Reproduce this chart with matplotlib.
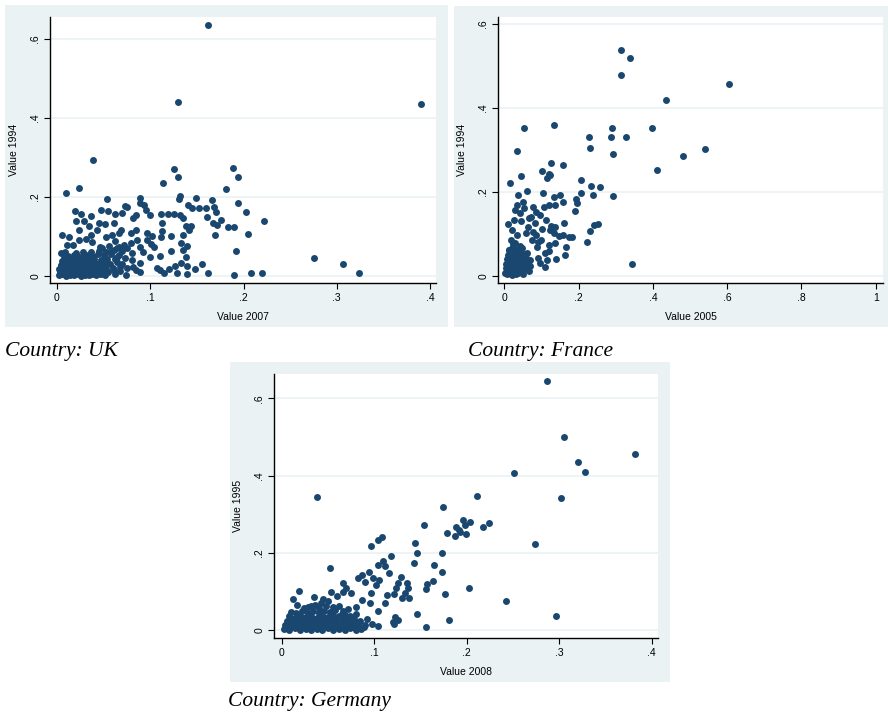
import matplotlib
matplotlib.use("Agg")
import matplotlib.pyplot as plt
import numpy as np

# --- data: (x, y) pairs per country ---
uk_points = [
    (0.162, 0.635), (0.130, 0.440), (0.390, 0.435), (0.0386, 0.294), (0.010, 0.211), (0.024, 0.224),
    (0.125, 0.270), (0.130, 0.250), (0.114, 0.235), (0.189, 0.274), (0.194, 0.250), (0.181, 0.220),
    (0.132, 0.203), (0.131, 0.195), (0.149, 0.197), (0.166, 0.193), (0.194, 0.186), (0.203, 0.163),
    (0.222, 0.139), (0.205, 0.107), (0.192, 0.064), (0.276, 0.046), (0.307, 0.030), (0.324, 0.008),
    (0.208, 0.008), (0.220, 0.008), (0.190, 0.003), (0.162, 0.008), (0.156, 0.030), (0.1475, 0.019),
    (0.139, 0.004), (0.139, 0.025), (0.138, 0.049), (0.1325, 0.032), (0.129, 0.008), (0.126, 0.026),
    (0.120, 0.019), (0.115, 0.007), (0.110, 0.015), (0.107, 0.021), (0.110, 0.051), (0.122, 0.064),
    (0.133, 0.083), (0.139, 0.077), (0.135, 0.066), (0.135, 0.105), (0.142, 0.116), (0.144, 0.126),
    (0.138, 0.126), (0.135, 0.148), (0.132, 0.154), (0.125, 0.157), (0.119, 0.157), (0.112, 0.158),
    (0.113, 0.135), (0.113, 0.115), (0.122, 0.102), (0.111, 0.100), (0.102, 0.102), (0.097, 0.108),
    (0.096, 0.091), (0.104, 0.074), (0.100, 0.049), (0.089, 0.032), (0.089, 0.011), (0.081, 0.024),
    (0.100, 0.154), (0.095, 0.167), (0.093, 0.181), (0.089, 0.197), (0.089, 0.184), (0.085, 0.154),
    (0.082, 0.146), (0.085, 0.116), (0.079, 0.108), (0.086, 0.091), (0.079, 0.083), (0.089, 0.074),
    (0.080, 0.057), (0.073, 0.178), (0.075, 0.174), (0.070, 0.159), (0.062, 0.156), (0.055, 0.165),
    (0.054, 0.195), (0.047, 0.167), (0.061, 0.135), (0.051, 0.132), (0.045, 0.135), (0.069, 0.116),
    (0.066, 0.108), (0.059, 0.104), (0.053, 0.098), (0.043, 0.116), (0.036, 0.152), (0.034, 0.127),
    (0.029, 0.138), (0.026, 0.158), (0.019, 0.164), (0.020, 0.140), (0.024, 0.116), (0.024, 0.091),
    (0.013, 0.100), (0.005, 0.103), (0.011, 0.078), (0.017, 0.079), (0.004, 0.058), (0.009, 0.062),
    (0.031, 0.094), (0.036, 0.104), (0.037, 0.087), (0.046, 0.074), (0.066, 0.074), (0.075, 0.070),
    (0.064, 0.049), (0.073, 0.045), (0.074, 0.003), (0.068, 0.024), (0.061, 0.015), (0.052, 0.024),
    (0.168, 0.174), (0.171, 0.163), (0.176, 0.142), (0.183, 0.125), (0.190, 0.125), (0.167, 0.133),
    (0.169, 0.105), (0.160, 0.173), (0.161, 0.150), (0.172, 0.130), (0.152, 0.173), (0.145, 0.173),
    (0.141, 0.180), (0.092, 0.062), (0.101, 0.082), (0.058, 0.060), (0.062, 0.088),
    # dense cluster near the origin
    (0.002, 0.002), (0.006, 0.004), (0.010, 0.001), (0.014, 0.003), (0.018, 0.002), (0.022, 0.004),
    (0.026, 0.001), (0.030, 0.003), (0.034, 0.002), (0.038, 0.005), (0.042, 0.002), (0.047, 0.004),
    (0.052, 0.003), (0.003, 0.010), (0.007, 0.013), (0.011, 0.009), (0.015, 0.012), (0.019, 0.010),
    (0.023, 0.014), (0.027, 0.011), (0.031, 0.013), (0.035, 0.010), (0.039, 0.012), (0.044, 0.009),
    (0.049, 0.013), (0.055, 0.011), (0.002, 0.019), (0.006, 0.022), (0.010, 0.018), (0.014, 0.021),
    (0.018, 0.024), (0.022, 0.019), (0.026, 0.022), (0.030, 0.020), (0.034, 0.023), (0.040, 0.020),
    (0.046, 0.022), (0.053, 0.019), (0.060, 0.021), (0.004, 0.029), (0.008, 0.032), (0.012, 0.028),
    (0.016, 0.031), (0.020, 0.034), (0.025, 0.030), (0.029, 0.033), (0.033, 0.029), (0.038, 0.032),
    (0.043, 0.030), (0.050, 0.033), (0.057, 0.030), (0.005, 0.039), (0.010, 0.041), (0.015, 0.038),
    (0.020, 0.043), (0.024, 0.040), (0.029, 0.044), (0.034, 0.041), (0.040, 0.043), (0.047, 0.040),
    (0.054, 0.044), (0.062, 0.042), (0.012, 0.050), (0.018, 0.052), (0.024, 0.049), (0.031, 0.054),
    (0.037, 0.051), (0.044, 0.055), (0.050, 0.052), (0.058, 0.056), (0.066, 0.053), (0.028, 0.062),
    (0.036, 0.060), (0.045, 0.064), (0.053, 0.061), (0.061, 0.066), (0.070, 0.063), (0.048, 0.072),
    (0.056, 0.076), (0.064, 0.071), (0.072, 0.079), (0.062, 0.005), (0.068, 0.012), (0.075, 0.020),
    (0.070, 0.030), (0.080, 0.040), (0.085, 0.015),
    (0.004, 0.006), (0.012, 0.006), (0.020, 0.007), (0.028, 0.006), (0.036, 0.007), (0.044, 0.006),
    (0.008, 0.016), (0.016, 0.016), (0.024, 0.017), (0.032, 0.016), (0.041, 0.016), (0.050, 0.017),
    (0.004, 0.025), (0.012, 0.024), (0.020, 0.026), (0.028, 0.025), (0.036, 0.026), (0.044, 0.025),
    (0.007, 0.035), (0.014, 0.034), (0.022, 0.036), (0.031, 0.037), (0.040, 0.036), (0.047, 0.035),
    (0.008, 0.046), (0.016, 0.045), (0.027, 0.047), (0.039, 0.047), (0.020, 0.058), (0.064, 0.036),
]

fr_points = [
    (0.314, 0.537), (0.338, 0.519), (0.313, 0.478), (0.606, 0.456), (0.435, 0.418), (0.397, 0.353),
    (0.540, 0.302), (0.482, 0.286), (0.411, 0.253), (0.343, 0.028), (0.290, 0.352), (0.287, 0.330),
    (0.328, 0.330), (0.227, 0.330), (0.232, 0.304), (0.294, 0.290), (0.294, 0.191), (0.259, 0.213),
    (0.234, 0.214), (0.238, 0.194), (0.207, 0.228), (0.206, 0.197), (0.193, 0.184), (0.196, 0.173),
    (0.191, 0.155), (0.134, 0.360), (0.054, 0.352), (0.033, 0.298), (0.044, 0.237), (0.015, 0.221),
    (0.101, 0.251), (0.127, 0.268), (0.158, 0.265), (0.124, 0.240), (0.116, 0.233), (0.121, 0.243),
    (0.061, 0.202), (0.038, 0.193), (0.104, 0.198), (0.149, 0.192), (0.133, 0.188), (0.158, 0.176),
    (0.137, 0.169), (0.119, 0.169), (0.108, 0.165), (0.161, 0.125), (0.230, 0.107), (0.242, 0.121),
    (0.253, 0.123), (0.222, 0.081), (0.167, 0.070), (0.164, 0.049), (0.181, 0.092), (0.174, 0.092),
    (0.159, 0.097), (0.147, 0.096), (0.139, 0.040), (0.114, 0.038), (0.109, 0.022), (0.096, 0.030),
    (0.034, 0.170), (0.050, 0.176), (0.054, 0.161), (0.030, 0.157), (0.011, 0.124), (0.021, 0.110),
    (0.042, 0.149), (0.072, 0.141), (0.077, 0.165), (0.085, 0.153), (0.096, 0.145), (0.111, 0.133),
    (0.101, 0.112), (0.123, 0.110), (0.136, 0.117), (0.133, 0.102), (0.137, 0.078), (0.119, 0.074),
    (0.098, 0.086), (0.082, 0.125), (0.064, 0.117), (0.058, 0.102), (0.085, 0.098), (0.074, 0.086),
    (0.087, 0.070), (0.109, 0.054), (0.091, 0.042), (0.056, 0.016), (0.069, 0.038), (0.060, 0.054),
    (0.047, 0.066), (0.033, 0.098), (0.017, 0.086), (0.029, 0.078), (0.012, 0.062), (0.025, 0.133),
    (0.046, 0.130), (0.066, 0.138), (0.090, 0.080), (0.120, 0.060), (0.125, 0.120), (0.078, 0.105),
    # dense cluster near the origin
    (0.003, 0.008), (0.008, 0.004), (0.014, 0.006), (0.020, 0.003), (0.026, 0.007), (0.032, 0.004),
    (0.038, 0.006), (0.044, 0.009), (0.050, 0.005), (0.004, 0.018), (0.010, 0.015), (0.016, 0.020),
    (0.022, 0.016), (0.028, 0.019), (0.034, 0.015), (0.040, 0.020), (0.046, 0.017), (0.053, 0.021),
    (0.060, 0.018), (0.005, 0.028), (0.011, 0.031), (0.017, 0.027), (0.023, 0.032), (0.029, 0.028),
    (0.035, 0.031), (0.041, 0.027), (0.048, 0.032), (0.055, 0.029), (0.063, 0.031), (0.007, 0.040),
    (0.013, 0.037), (0.019, 0.042), (0.025, 0.038), (0.031, 0.043), (0.037, 0.039), (0.044, 0.042),
    (0.051, 0.040), (0.058, 0.044), (0.009, 0.050), (0.016, 0.053), (0.022, 0.049), (0.029, 0.054),
    (0.036, 0.051), (0.043, 0.055), (0.050, 0.052), (0.012, 0.062), (0.020, 0.066), (0.028, 0.061),
    (0.036, 0.065), (0.042, 0.072), (0.024, 0.076), (0.067, 0.012), (0.070, 0.024),
    (0.006, 0.012), (0.018, 0.011), (0.030, 0.012), (0.042, 0.013), (0.008, 0.023), (0.020, 0.023),
    (0.032, 0.024), (0.044, 0.024), (0.010, 0.034), (0.022, 0.035), (0.034, 0.036), (0.046, 0.036),
    (0.013, 0.045), (0.026, 0.046), (0.040, 0.047), (0.018, 0.058), (0.032, 0.058), (0.060, 0.038),
]

de_points = [
    (0.287, 0.645), (0.305, 0.500), (0.382, 0.455), (0.320, 0.434), (0.328, 0.410), (0.251, 0.406),
    (0.302, 0.341), (0.038, 0.344), (0.211, 0.347), (0.174, 0.319), (0.274, 0.223), (0.242, 0.076),
    (0.297, 0.038), (0.154, 0.273), (0.224, 0.278), (0.218, 0.266), (0.204, 0.281), (0.196, 0.284),
    (0.198, 0.272), (0.188, 0.268), (0.192, 0.259), (0.187, 0.245), (0.199, 0.250), (0.179, 0.251),
    (0.193, 0.255), (0.144, 0.226), (0.146, 0.200), (0.173, 0.200), (0.143, 0.173), (0.165, 0.169),
    (0.173, 0.152), (0.164, 0.127), (0.156, 0.106), (0.157, 0.119), (0.177, 0.094), (0.202, 0.109),
    (0.146, 0.042), (0.156, 0.008), (0.181, 0.026), (0.118, 0.192), (0.108, 0.240), (0.104, 0.234),
    (0.097, 0.217), (0.110, 0.180), (0.112, 0.167), (0.104, 0.170), (0.116, 0.148), (0.129, 0.138),
    (0.126, 0.122), (0.136, 0.123), (0.137, 0.110), (0.124, 0.109), (0.121, 0.094), (0.133, 0.097),
    (0.138, 0.083), (0.130, 0.084), (0.114, 0.091), (0.112, 0.070), (0.104, 0.050), (0.122, 0.035),
    (0.126, 0.027), (0.120, 0.022), (0.121, 0.016), (0.104, 0.011), (0.098, 0.016), (0.052, 0.162),
    (0.019, 0.102), (0.066, 0.122), (0.075, 0.097), (0.094, 0.152), (0.087, 0.143), (0.083, 0.136),
    (0.099, 0.134), (0.105, 0.130), (0.102, 0.117), (0.097, 0.096), (0.095, 0.070), (0.087, 0.078),
    (0.080, 0.061), (0.090, 0.125), (0.070, 0.110), (0.066, 0.100), (0.060, 0.090), (0.053, 0.100),
    (0.045, 0.080), (0.035, 0.085), (0.028, 0.060), (0.012, 0.080), (0.017, 0.065),
    # dense cluster near the origin
    (0.002, 0.004), (0.008, 0.002), (0.014, 0.005), (0.020, 0.002), (0.026, 0.004), (0.032, 0.001),
    (0.038, 0.004), (0.044, 0.002), (0.050, 0.005), (0.056, 0.002), (0.062, 0.004), (0.068, 0.002),
    (0.074, 0.005), (0.080, 0.002), (0.086, 0.004), (0.004, 0.014), (0.010, 0.012), (0.016, 0.016),
    (0.022, 0.012), (0.028, 0.015), (0.034, 0.011), (0.040, 0.016), (0.046, 0.013), (0.052, 0.017),
    (0.058, 0.012), (0.064, 0.015), (0.070, 0.012), (0.076, 0.016), (0.082, 0.013), (0.090, 0.015),
    (0.006, 0.025), (0.012, 0.022), (0.018, 0.027), (0.024, 0.023), (0.030, 0.026), (0.036, 0.022),
    (0.042, 0.027), (0.048, 0.024), (0.054, 0.028), (0.060, 0.023), (0.066, 0.027), (0.072, 0.024),
    (0.078, 0.028), (0.085, 0.025), (0.008, 0.036), (0.014, 0.033), (0.020, 0.038), (0.026, 0.034),
    (0.032, 0.037), (0.038, 0.033), (0.044, 0.038), (0.050, 0.035), (0.056, 0.039), (0.062, 0.036),
    (0.068, 0.040), (0.074, 0.037), (0.080, 0.041), (0.010, 0.047), (0.016, 0.044), (0.022, 0.049),
    (0.028, 0.045), (0.034, 0.050), (0.040, 0.046), (0.046, 0.051), (0.052, 0.047), (0.058, 0.052),
    (0.066, 0.050), (0.072, 0.054), (0.024, 0.058), (0.032, 0.062), (0.040, 0.057), (0.048, 0.063),
    (0.056, 0.059), (0.042, 0.070), (0.050, 0.075),
    (0.005, 0.008), (0.017, 0.009), (0.029, 0.008), (0.041, 0.009), (0.053, 0.008), (0.065, 0.009),
    (0.077, 0.008), (0.089, 0.008), (0.009, 0.019), (0.021, 0.020), (0.033, 0.019), (0.045, 0.020),
    (0.057, 0.019), (0.069, 0.020), (0.081, 0.019), (0.011, 0.030), (0.023, 0.031), (0.035, 0.030),
    (0.047, 0.031), (0.059, 0.030), (0.071, 0.031), (0.017, 0.040), (0.029, 0.041), (0.041, 0.041),
    (0.053, 0.042), (0.065, 0.043), (0.036, 0.066), (0.062, 0.062), (0.092, 0.030),
]

panels = [
    # name, points, x label, y label, x ticks, x tick labels, y ticks, y tick labels
    ("UK", uk_points, "Value 2007", "Value 1994",
     [0, 0.1, 0.2, 0.3, 0.4], ["0", ".1", ".2", ".3", ".4"],
     [0, 0.2, 0.4, 0.6], ["0", ".2", ".4", ".6"]),
    ("France", fr_points, "Value 2005", "Value 1994",
     [0, 0.2, 0.4, 0.6, 0.8, 1.0], ["0", ".2", ".4", ".6", ".8", "1"],
     [0, 0.2, 0.4, 0.6], ["0", ".2", ".4", ".6"]),
    ("Germany", de_points, "Value 2008", "Value 1995",
     [0, 0.1, 0.2, 0.3, 0.4], ["0", ".1", ".2", ".3", ".4"],
     [0, 0.2, 0.4, 0.6], ["0", ".2", ".4", ".6"]),
]

W, H = 888, 714
bg = "#eaf2f3"
navy = "#1a476f"

# pixel boxes: background box, plot box (left, top, right, bottom), axis limits, caption spot
boxes = [
    ((5, 5, 448, 327), (50, 17, 436, 283), (-0.0075, 0.4064), (-0.0177, 0.6557), (5, 356)),
    ((454, 6, 888, 327), (498, 17, 883, 283), (-0.017, 1.0197), (-0.0167, 0.6167), (468, 356)),
    ((230, 362, 670, 682), (274, 374, 658, 638), (-0.0083, 0.4068), (-0.0199, 0.6628), (228, 706)),
]

def frac(l, t, r, b):
    return [l / W, 1 - b / H, (r - l) / W, (b - t) / H]

fig = plt.figure(figsize=(W / 100, H / 100), dpi=100)

for (name, pts, xl, yl, xt, xtl, yt, ytl), (bgbox, pbox, xlim, ylim, cap) in zip(panels, boxes):
    back = fig.add_axes(frac(*bgbox))
    back.set_facecolor(bg)
    back.set_xticks([])
    back.set_yticks([])
    for s in back.spines.values():
        s.set_visible(False)

    ax = fig.add_axes(frac(*pbox))
    ax.set_facecolor("white")
    pts = np.array(pts)
    ax.scatter(pts[:, 0], pts[:, 1], s=25, color=navy, linewidths=0, zorder=3)
    ax.set_xlim(xlim)
    ax.set_ylim(ylim)
    ax.set_xticks(xt)
    ax.set_xticklabels(xtl, fontsize=7.5, fontfamily="Liberation Sans")
    ax.set_yticks(yt)
    ax.set_yticklabels(ytl, fontsize=7.5, fontfamily="Liberation Sans", rotation=90, va="center")
    ax.tick_params(direction="out", length=4, width=0.8, color="black", pad=3)
    ax.set_xlabel(xl, fontsize=7.5, fontfamily="Liberation Sans", labelpad=7)
    ax.set_ylabel(yl, fontsize=7.5, fontfamily="Liberation Sans", labelpad=8)
    ax.grid(axis="y", color=bg, linewidth=1.2, zorder=0)
    ax.spines["top"].set_visible(False)
    ax.spines["right"].set_visible(False)
    ax.spines["left"].set_linewidth(1.0)
    ax.spines["bottom"].set_linewidth(1.0)

    fig.text(cap[0] / W, 1 - cap[1] / H, "Country: " + name, fontsize=15.5,
             fontfamily="Liberation Serif", style="italic", ha="left", va="baseline")

fig.savefig("out.png", dpi=100)
